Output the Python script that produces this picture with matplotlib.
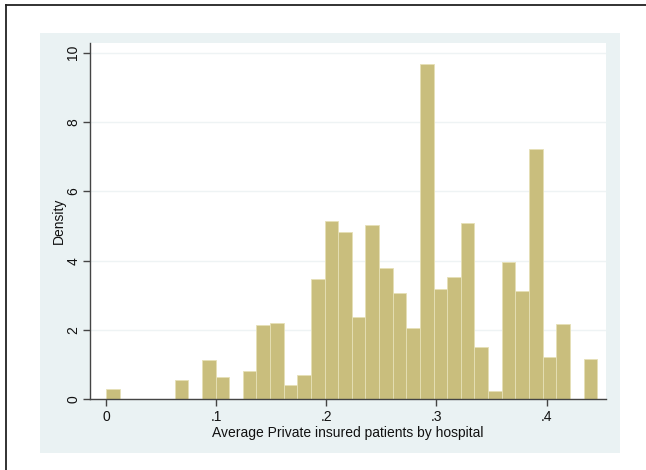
import numpy as np
import matplotlib
matplotlib.use("Agg")
import matplotlib.pyplot as plt
from matplotlib.patches import Rectangle
from matplotlib.lines import Line2D

plt.rcParams['font.family'] = ['Liberation Sans', 'DejaVu Sans']

# histogram data (36 equal bins)
bin_start = 0.0
bin_width = 0.01239
density = [0.31, 0, 0, 0, 0, 0.56, 0, 1.12, 0.64, 0,
           0.83, 2.13, 2.19, 0.41, 0.70, 3.48, 5.15, 4.83, 2.38, 5.02,
           3.79, 3.06, 2.05, 9.67, 3.17, 3.54, 5.10, 1.52, 0.25, 3.95,
           3.12, 7.21, 1.23, 2.18, 0, 1.15]
x_ticks = [0, 0.1, 0.2, 0.3, 0.4]
x_ticklabels = ['0', '.1', '.2', '.3', '.4']
y_ticks = [0, 2, 4, 6, 8, 10]

bar_color = '#C9BE7D'
region_color = '#EAF2F3'

fig = plt.figure(figsize=(6.46, 4.70), dpi=100)
fig.patch.set_facecolor('white')

# stata graph region
fig.patches.append(Rectangle((0.0619, 0.0362), 0.8978, 0.8936, transform=fig.transFigure,
                             facecolor=region_color, edgecolor='none', zorder=-5))
# page frame (top and left only)
fig.lines.append(Line2D([6 / 646, 1.0], [1 - 5 / 470, 1 - 5 / 470], transform=fig.transFigure,
                        color='#222222', linewidth=1.3))
fig.lines.append(Line2D([6 / 646, 6 / 646], [0.0, 1 - 5 / 470], transform=fig.transFigure,
                        color='#222222', linewidth=1.3))

ax = fig.add_axes([0.1393, 0.1504, 0.7988, 0.758])
ax.set_zorder(2)
ax.set_facecolor('white')

n = len(density)
edges = bin_start + bin_width * np.arange(n)
ax.bar(edges, density, width=bin_width, align='edge', color=bar_color,
       edgecolor='#E6E0B6', linewidth=0.6, zorder=2)

ax.set_xlim(-0.015, 0.4541)
ax.set_ylim(0, 10.28)

ax.set_xticks(x_ticks)
ax.set_xticklabels(x_ticklabels)
ax.set_yticks(y_ticks)
ax.set_yticklabels([str(v) for v in y_ticks], rotation=90, va='center')

ax.yaxis.grid(True, color='#EEF3F4', linewidth=1.0, zorder=1)
ax.set_axisbelow(True)

for s in ['top', 'right']:
    ax.spines[s].set_visible(False)
for s in ['left', 'bottom']:
    ax.spines[s].set_color('#444444')
    ax.spines[s].set_linewidth(1.0)

ax.tick_params(axis='both', direction='out', length=5, width=1.0, color='#444444',
               labelsize=10, labelcolor='#111111', pad=3)
ax.tick_params(axis='y', pad=2)

ax.set_xlabel('Average Private insured patients by hospital', fontsize=10,
              color='#111111', labelpad=1)
ax.set_ylabel('Density', fontsize=10, color='#111111', labelpad=0)

fig.savefig('out.png', dpi=100)
